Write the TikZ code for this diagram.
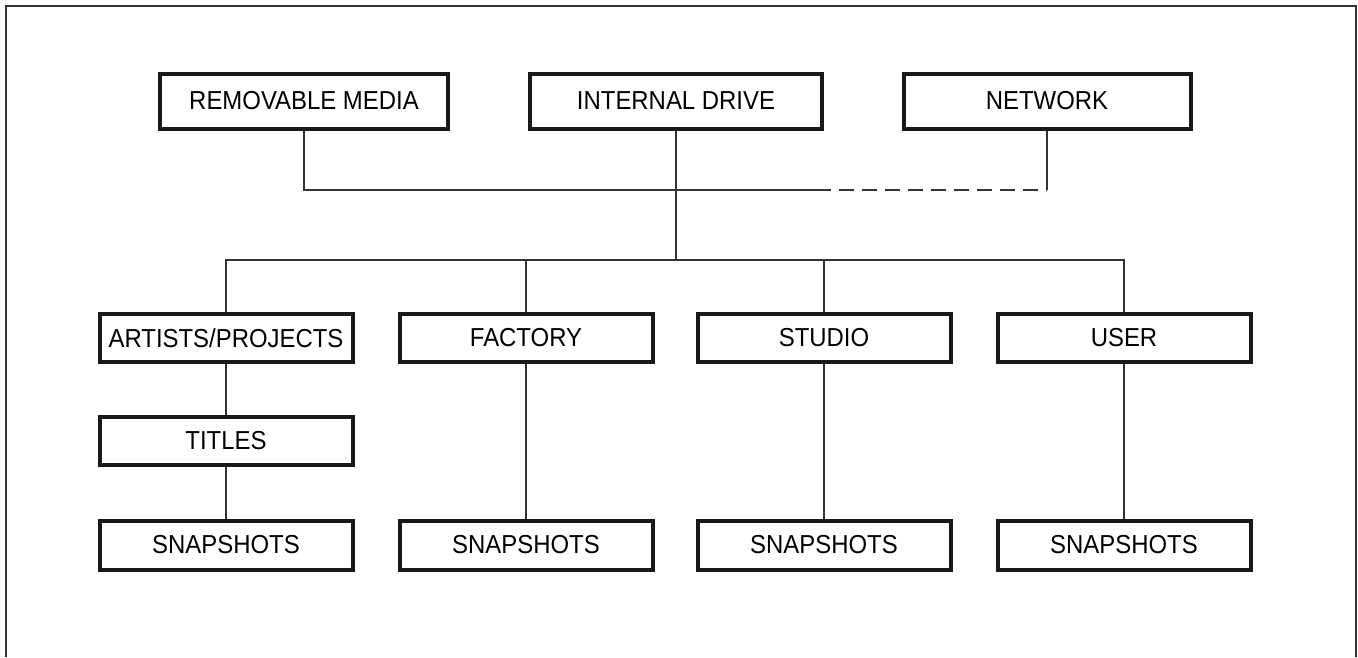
\documentclass[tikz,border=0pt]{standalone}
\usepackage{fontspec}
\setmainfont{Liberation Sans}
\newfontfamily\labfont[FakeStretch=0.92]{Liberation Sans}
\begin{document}
\begin{tikzpicture}[x=1pt,y=-1pt,
  box/.style={draw=black!90, line width=4pt, minimum width=#1, inner sep=0pt, font=\labfont\fontsize{26}{30}\selectfont, fill=white},
  box/.default=253pt,
  link/.style={draw=black!80, line width=1.4pt},
  frame/.style={draw=black!80, line width=2pt}]
\useasboundingbox (0,0) rectangle (1358,657);
\draw[frame] (6,657) -- (6,6) -- (1356,6) -- (1356,657);
% top row
\node[box=288pt, minimum height=55pt] (rm) at (304,101) {REMOVABLE MEDIA};
\node[box=292pt, minimum height=55pt] (id) at (676,101) {INTERNAL DRIVE};
\node[box=287pt, minimum height=55pt] (nw) at (1047,101) {NETWORK};
% second row
\node[box, minimum height=48pt] (ap) at (226,338) {ARTISTS/PROJECTS};
\node[box, minimum height=48pt] (fa) at (526,338) {FACTORY};
\node[box, minimum height=48pt] (st) at (824,338) {STUDIO};
\node[box, minimum height=48pt] (us) at (1124,338) {USER};
% titles
\node[box, minimum height=48pt] (ti) at (226,441) {TITLES};
% snapshots
\node[box, minimum height=49pt] (s1) at (226,545) {SNAPSHOTS};
\node[box, minimum height=49pt] (s2) at (526,545) {SNAPSHOTS};
\node[box, minimum height=49pt] (s3) at (824,545) {SNAPSHOTS};
\node[box, minimum height=49pt] (s4) at (1124,545) {SNAPSHOTS};
% connectors
\coordinate (j1) at (304,190);
\coordinate (jd) at (831,190);
\coordinate (j2) at (1047,190);
\coordinate (hub) at (676,260);
\draw[link] (rm.south) -- (j1) -- (jd);
\draw[link, dash pattern=on 15pt off 8pt, dash phase=-8pt] (jd) -- (j2);
\draw[link] (j2) -- (nw.south);
\draw[link] (id.south) -- (hub);
\draw[link] (ap.north) |- (hub);
\draw[link] (fa.north) |- (hub);
\draw[link] (st.north) |- (hub);
\draw[link] (us.north) |- (hub);
\draw[link] (ap) -- (ti);
\draw[link] (ti) -- (s1);
\draw[link] (fa) -- (s2);
\draw[link] (st) -- (s3);
\draw[link] (us) -- (s4);
\end{tikzpicture}
\end{document}
